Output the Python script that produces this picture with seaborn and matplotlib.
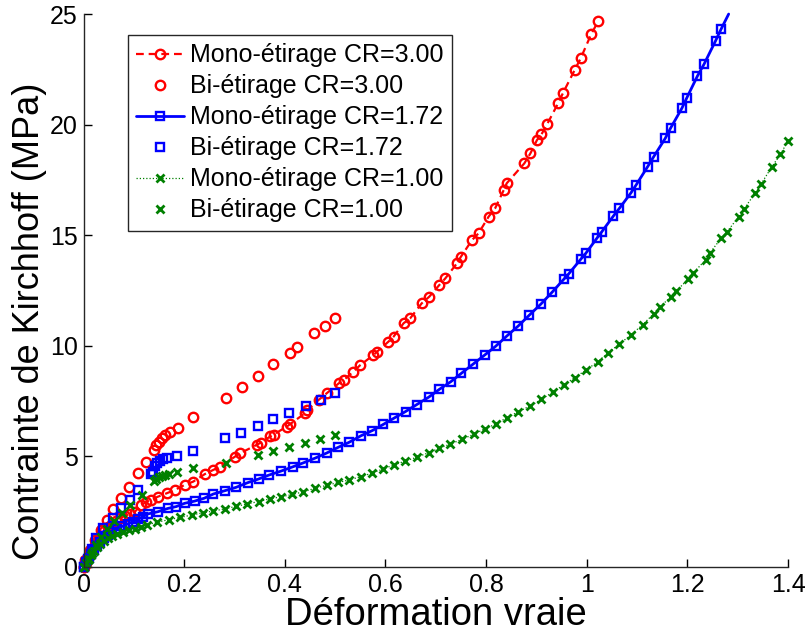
import matplotlib
matplotlib.use("Agg")
import matplotlib.pyplot as plt
import seaborn as sns
import pandas as pd

# Mono-étirage CR=3.00
mono_300_x = [0, 0.004, 0.008, 0.012, 0.017, 0.022, 0.028, 0.034, 0.041, 0.048, 0.056,
              0.064, 0.073, 0.082, 0.092, 0.102, 0.115, 0.125, 0.135, 0.148, 0.165, 0.181,
              0.201, 0.218, 0.241, 0.257, 0.271, 0.301, 0.311, 0.344, 0.352, 0.371, 0.378,
              0.404, 0.410, 0.440, 0.444, 0.467, 0.483, 0.507, 0.517, 0.536, 0.550, 0.576,
              0.583, 0.606, 0.616, 0.636, 0.649, 0.672, 0.687, 0.707, 0.719, 0.742, 0.750,
              0.772, 0.785, 0.805, 0.818, 0.835, 0.841, 0.876, 0.888, 0.901, 0.910, 0.921,
              0.943, 0.953, 0.976, 0.988, 1.009, 1.023]
mono_300_y = [0, 0.20, 0.40, 0.58, 0.80, 1.00, 1.22, 1.42, 1.62, 1.80, 1.96,
              2.10, 2.22, 2.30, 2.40, 2.50, 2.80, 2.95, 3.05, 3.18, 3.33, 3.48,
              3.71, 3.86, 4.20, 4.38, 4.53, 4.99, 5.14, 5.52, 5.62, 5.90, 5.99,
              6.35, 6.45, 6.95, 7.08, 7.55, 7.85, 8.30, 8.45, 8.83, 9.13, 9.58,
              9.73, 10.19, 10.41, 11.02, 11.24, 11.92, 12.22, 12.75, 13.05, 13.73, 14.03,
              14.78, 15.09, 15.84, 16.22, 17.04, 17.35, 18.25, 18.70, 19.30, 19.56, 20.01,
              20.96, 21.44, 22.47, 23.00, 24.10, 24.68]

# Bi-étirage CR=3.00
bi_300_x = [0, 0.003, 0.013, 0.023, 0.034, 0.046, 0.059, 0.075, 0.091, 0.108, 0.124,
            0.140, 0.145, 0.150, 0.155, 0.162, 0.172, 0.187, 0.218, 0.283, 0.314, 0.346,
            0.377, 0.411, 0.425, 0.458, 0.480, 0.500]
bi_300_y = [0, 0.32, 0.77, 1.22, 1.67, 2.12, 2.61, 3.13, 3.62, 4.24, 4.75,
            5.29, 5.52, 5.66, 5.82, 5.97, 6.12, 6.27, 6.77, 7.65, 8.12, 8.63,
            9.16, 9.69, 9.96, 10.56, 10.90, 11.24]

# Mono-étirage CR=1.72
mono_172_x = [0, 0.005, 0.010, 0.015, 0.020, 0.026, 0.032, 0.040, 0.048, 0.057, 0.067,
              0.077, 0.088, 0.098, 0.108, 0.118, 0.128, 0.148, 0.168, 0.184, 0.201, 0.221,
              0.240, 0.258, 0.281, 0.303, 0.326, 0.348, 0.369, 0.393, 0.416, 0.437, 0.460,
              0.483, 0.506, 0.528, 0.551, 0.574, 0.596, 0.617, 0.640, 0.662, 0.686, 0.707,
              0.730, 0.751, 0.774, 0.797, 0.819, 0.841, 0.864, 0.886, 0.909, 0.931, 0.954,
              0.964, 0.988, 0.998, 1.020, 1.030, 1.053, 1.065, 1.088, 1.098, 1.121, 1.133,
              1.156, 1.167, 1.189, 1.199, 1.220, 1.233, 1.256, 1.267, 1.282]
mono_172_y = [0, 0.22, 0.42, 0.60, 0.78, 0.96, 1.12, 1.30, 1.46, 1.60, 1.73,
              1.84, 1.95, 2.05, 2.15, 2.28, 2.40, 2.50, 2.65, 2.73, 2.88, 2.98,
              3.11, 3.30, 3.45, 3.60, 3.81, 3.98, 4.16, 4.34, 4.53, 4.71, 4.92,
              5.15, 5.41, 5.64, 5.93, 6.17, 6.45, 6.73, 7.03, 7.34, 7.68, 8.03,
              8.38, 8.76, 9.17, 9.58, 9.98, 10.44, 10.90, 11.39, 11.89, 12.42, 13.00,
              13.25, 13.91, 14.18, 14.86, 15.16, 15.87, 16.22, 16.92, 17.27, 18.10, 18.55,
              19.38, 19.86, 20.74, 21.22, 22.20, 22.73, 23.79, 24.32, 25.00]

# Bi-étirage CR=1.72
bi_172_x = [0, 0.008, 0.016, 0.025, 0.039, 0.059, 0.075, 0.092, 0.108, 0.135, 0.139,
            0.143, 0.146, 0.152, 0.158, 0.165, 0.185, 0.217, 0.281, 0.313, 0.346, 0.377,
            0.409, 0.442, 0.472, 0.499]
bi_172_y = [0, 0.35, 0.80, 1.30, 1.75, 2.20, 2.65, 3.03, 3.48, 4.20, 4.31,
            4.55, 4.69, 4.80, 4.88, 4.95, 5.03, 5.26, 5.85, 6.07, 6.37, 6.68,
            6.98, 7.28, 7.55, 7.85]

# Mono-étirage CR=1.00
mono_100_x = [0, 0.005, 0.010, 0.015, 0.020, 0.026, 0.033, 0.040, 0.048, 0.057, 0.066,
              0.079, 0.090, 0.102, 0.114, 0.126, 0.147, 0.170, 0.192, 0.215, 0.237, 0.258,
              0.281, 0.303, 0.325, 0.348, 0.370, 0.392, 0.415, 0.437, 0.460, 0.483, 0.506,
              0.528, 0.551, 0.574, 0.596, 0.617, 0.639, 0.662, 0.686, 0.707, 0.729, 0.752,
              0.775, 0.797, 0.819, 0.841, 0.864, 0.888, 0.910, 0.932, 0.954, 0.976, 0.999,
              1.022, 1.043, 1.065, 1.088, 1.111, 1.133, 1.145, 1.167, 1.178, 1.201, 1.211,
              1.236, 1.244, 1.267, 1.279, 1.302, 1.312, 1.335, 1.346, 1.368, 1.385, 1.400]
mono_100_y = [0, 0.20, 0.38, 0.56, 0.74, 0.90, 1.05, 1.18, 1.30, 1.40, 1.48,
              1.58, 1.66, 1.74, 1.82, 1.90, 2.03, 2.14, 2.24, 2.35, 2.45, 2.53,
              2.63, 2.74, 2.85, 2.96, 3.08, 3.17, 3.28, 3.40, 3.56, 3.69, 3.82,
              3.94, 4.08, 4.25, 4.44, 4.61, 4.79, 4.96, 5.17, 5.37, 5.56, 5.77,
              6.00, 6.24, 6.46, 6.75, 7.02, 7.29, 7.58, 7.90, 8.23, 8.56, 8.91,
              9.28, 9.69, 10.08, 10.50, 10.95, 11.45, 11.74, 12.22, 12.48, 13.00, 13.28,
              13.88, 14.18, 14.86, 15.16, 15.84, 16.17, 16.92, 17.30, 18.10, 18.66, 19.27]

# Bi-étirage CR=1.00
bi_100_x = [0, 0.008, 0.016, 0.025, 0.035, 0.046, 0.060, 0.076, 0.092, 0.116, 0.140,
            0.145, 0.150, 0.155, 0.162, 0.170, 0.185, 0.218, 0.283, 0.346, 0.377, 0.409,
            0.440, 0.470, 0.499]
bi_100_y = [0, 0.30, 0.65, 1.00, 1.35, 1.72, 2.10, 2.43, 2.80, 3.25, 3.90,
            4.00, 4.05, 4.10, 4.15, 4.20, 4.28, 4.46, 4.72, 5.06, 5.24, 5.44,
            5.59, 5.77, 5.97]

x_ticks = [0, 0.2, 0.4, 0.6, 0.8, 1.0, 1.2, 1.4]
x_tick_labels = ["0", "0.2", "0.4", "0.6", "0.8", "1", "1.2", "1.4"]
y_ticks = [0, 5, 10, 15, 20, 25]
y_tick_labels = ["0", "5", "10", "15", "20", "25"]

RED = (1.0, 0.0, 0.0)
BLUE = (0.0, 0.0, 1.0)
GREEN = (0.0, 0.5, 0.0)

sns.set_style("white")
plt.rcParams["font.family"] = ["Liberation Sans", "DejaVu Sans"]
plt.rcParams["text.color"] = "black"
plt.rcParams["axes.labelcolor"] = "black"

fig = plt.figure(figsize=(8.07, 6.39), dpi=100)
ax = fig.add_axes([0.1035, 0.1127, 0.873, 0.8653])

series = [
    (mono_300_x, mono_300_y, "Mono-étirage CR=3.00",
     dict(color=RED, linestyle=(0, (3.5, 2.2)), linewidth=1.6, marker="o",
          markersize=6.8, markerfacecolor="none", markeredgecolor=RED, markeredgewidth=1.7)),
    (bi_300_x, bi_300_y, "Bi-étirage CR=3.00",
     dict(color=RED, linestyle="none", marker="o",
          markersize=6.8, markerfacecolor="none", markeredgecolor=RED, markeredgewidth=1.7)),
    (mono_172_x, mono_172_y, "Mono-étirage CR=1.72",
     dict(color=BLUE, linestyle="-", linewidth=2.0, marker="s",
          markersize=6.0, markerfacecolor="none", markeredgecolor=BLUE, markeredgewidth=1.7,
          markevery=list(range(len(mono_172_x) - 1)))),
    (bi_172_x, bi_172_y, "Bi-étirage CR=1.72",
     dict(color=BLUE, linestyle="none", marker="s",
          markersize=6.0, markerfacecolor="none", markeredgecolor=BLUE, markeredgewidth=1.7)),
    (mono_100_x, mono_100_y, "Mono-étirage CR=1.00",
     dict(color=GREEN, linestyle=(0, (1, 1.6)), linewidth=0.9, marker="x",
          markersize=5.5, markeredgecolor=GREEN, markeredgewidth=2.0)),
    (bi_100_x, bi_100_y, "Bi-étirage CR=1.00",
     dict(color=GREEN, linestyle="none", marker="x",
          markersize=5.5, markeredgecolor=GREEN, markeredgewidth=2.0)),
]

for xs, ys, label, style in series:
    df = pd.DataFrame({"x": xs, "y": ys})
    sns.lineplot(data=df, x="x", y="y", ax=ax, estimator=None, sort=False,
                 label=label, clip_on=False, **style)

ax.set_xlim(0, 1.4)
ax.set_ylim(0, 25)
ax.set_xticks(x_ticks)
ax.set_xticklabels(x_tick_labels)
ax.set_yticks(y_ticks)
ax.set_yticklabels(y_tick_labels)
ax.tick_params(direction="in", length=6, width=1.0, labelsize=18, colors="black",
               pad=4, bottom=True, left=True)
ax.set_xlabel("Déformation vraie", fontsize=27.5, labelpad=0, color="black")
ax.set_ylabel("Contrainte de Kirchhoff (MPa)", fontsize=26, color="black")
ax.yaxis.set_label_coords(-0.052, 0.445)

for side in ("top", "right"):
    ax.spines[side].set_visible(False)
for side in ("left", "bottom"):
    ax.spines[side].set_color("#262626")
    ax.spines[side].set_linewidth(1.0)

leg = ax.legend(loc="upper left", bbox_to_anchor=(0.063, 0.962), borderaxespad=0,
                fontsize=18, numpoints=1, handlelength=1.9, handletextpad=0.25,
                labelspacing=0.28, borderpad=0.33, frameon=True, fancybox=False)
leg.get_frame().set_edgecolor("#262626")
leg.get_frame().set_linewidth(1.0)
leg.get_frame().set_alpha(1)
for txt in leg.get_texts():
    txt.set_color("black")

fig.savefig("out.png", dpi=100, facecolor="white")
